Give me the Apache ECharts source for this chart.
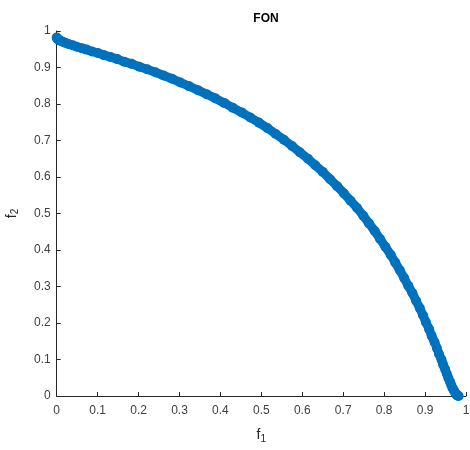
<!DOCTYPE html>
<html>
<head>
<meta charset="utf-8">
<script src="https://cdn.jsdelivr.net/npm/echarts@6/dist/echarts.min.js"></script>
<style>
  html, body { margin: 0; padding: 0; background: #fff; }
  #chart { width: 470px; height: 450px; }
</style>
</head>
<body>
<div id="chart"></div>
<script>
// points of the front
var f1 = [0, 0.001, 0.002, 0.006, 0.010, 0.016, 0.022, 0.030, 0.039, 0.049,
  0.061, 0.073, 0.086, 0.100, 0.115, 0.131, 0.148, 0.165, 0.183, 0.202,
  0.221, 0.241, 0.261, 0.282, 0.302, 0.323, 0.345, 0.366, 0.387, 0.409,
  0.430, 0.452, 0.473, 0.494, 0.515, 0.535, 0.555, 0.575, 0.594, 0.614,
  0.632, 0.650, 0.668, 0.685, 0.702, 0.718, 0.734, 0.749, 0.763, 0.777,
  0.790, 0.803, 0.816, 0.827, 0.838, 0.849, 0.859, 0.869, 0.878, 0.887,
  0.895, 0.902, 0.910, 0.916, 0.923, 0.929, 0.934, 0.940, 0.944, 0.949,
  0.953, 0.957, 0.961, 0.964, 0.967, 0.970, 0.973, 0.975, 0.978, 0.980, 0.982];
var f2 = [0.982, 0.980, 0.978, 0.975, 0.973, 0.970, 0.967, 0.964, 0.961, 0.957,
  0.953, 0.949, 0.944, 0.940, 0.934, 0.929, 0.923, 0.916, 0.910, 0.902,
  0.895, 0.887, 0.878, 0.869, 0.859, 0.849, 0.838, 0.827, 0.816, 0.803,
  0.790, 0.777, 0.763, 0.749, 0.734, 0.718, 0.702, 0.685, 0.668, 0.650,
  0.632, 0.614, 0.594, 0.575, 0.555, 0.535, 0.515, 0.494, 0.473, 0.452,
  0.430, 0.409, 0.387, 0.366, 0.345, 0.323, 0.302, 0.282, 0.261, 0.241,
  0.221, 0.202, 0.183, 0.165, 0.148, 0.131, 0.115, 0.100, 0.086, 0.073,
  0.061, 0.049, 0.039, 0.030, 0.022, 0.016, 0.010, 0.006, 0.002, 0.001, 0];
var tickLabels = ['0', '0.1', '0.2', '0.3', '0.4', '0.5', '0.6', '0.7', '0.8', '0.9', '1'];

var pts = f1.map(function (v, i) { return [v, f2[i]]; });
var blue = '#0072BD';
var axisColor = '#262626';
var font = 'Liberation Sans, Arial, sans-serif';

function axisCfg(name, gap) {
  return {
    type: 'value',
    min: 0,
    max: 1,
    interval: 0.1,
    name: name,
    nameLocation: 'middle',
    nameGap: gap,
    nameTextStyle: {
      color: axisColor, fontFamily: font, fontSize: 14,
      rich: { sub: { fontSize: 10, verticalAlign: 'bottom', padding: [8, 0, 0, 0], color: axisColor, fontFamily: font } }
    },
    axisLine: { show: true, lineStyle: { color: axisColor, width: 1 } },
    axisTick: { show: true, inside: true, length: 4, lineStyle: { color: axisColor } },
    axisLabel: {
      color: '#404040', fontFamily: font, fontSize: 12,
      formatter: function (v) { return tickLabels[Math.round(v * 10)]; }
    },
    splitLine: { show: false }
  };
}

var chart = echarts.init(document.getElementById('chart'));
var xAx = axisCfg('f{sub|1}', 30);
xAx.axisLabel.margin = 9;
var yAx = axisCfg('f{sub|2}', 36);
yAx.axisLabel.margin = 6;

chart.setOption({
  animation: false,
  title: {
    text: 'FON',
    left: 261,
    textAlign: 'center',
    top: 8,
    textStyle: { color: '#000', fontFamily: font, fontSize: 12, fontWeight: 'bold' }
  },
  grid: { left: 56.7, right: 4, top: 31, bottom: 54, containLabel: false, outerBoundsMode: 'none' },
  xAxis: xAx,
  yAxis: yAx,
  series: [{
    type: 'line',
    data: pts,
    showAllSymbol: true,
    symbol: 'circle',
    symbolSize: 10,
    itemStyle: { color: blue },
    lineStyle: { color: blue, width: 9 }
  }]
});
</script>
</body>
</html>
